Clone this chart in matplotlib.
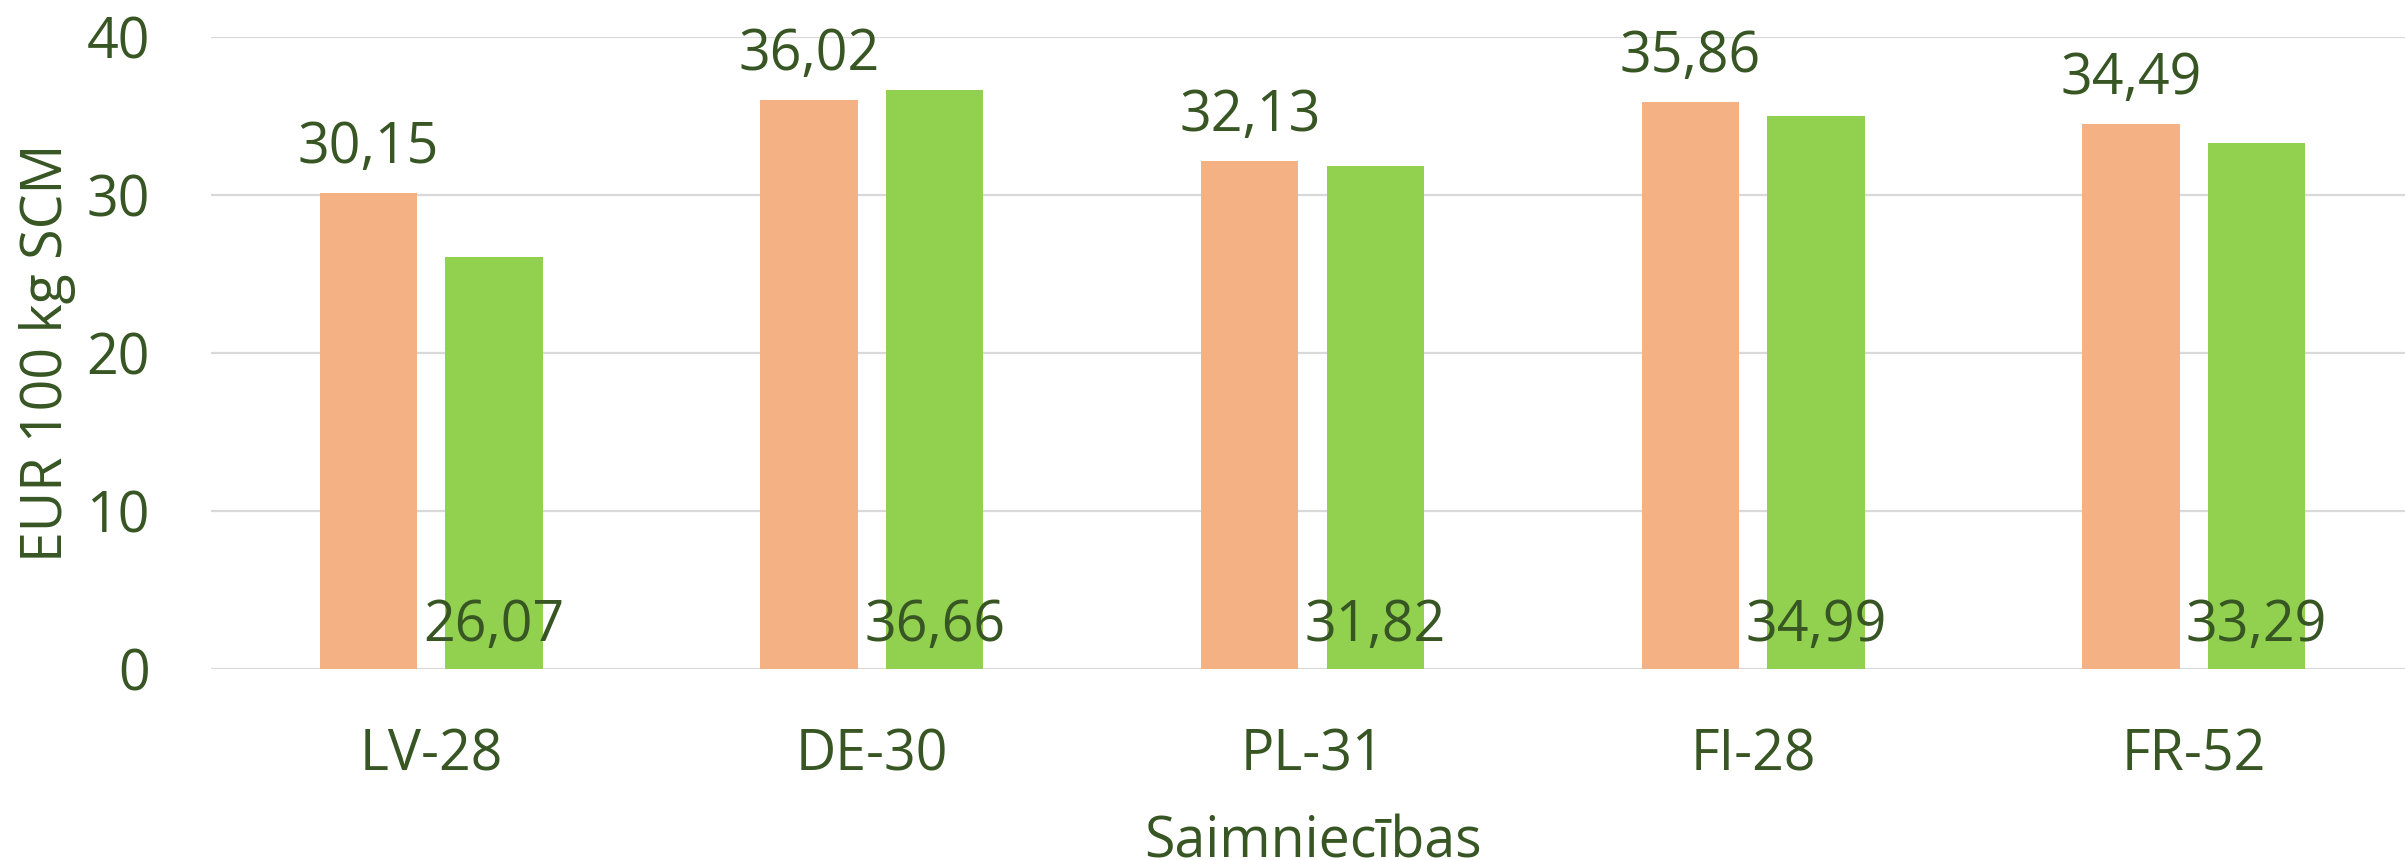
import matplotlib
matplotlib.use("Agg")
import matplotlib.pyplot as plt
import numpy as np

categories = ["LV-28", "DE-30", "PL-31", "FI-28", "FR-52"]
series_a = [30.15, 36.02, 32.13, 35.86, 34.49]
series_b = [26.07, 36.66, 31.82, 34.99, 33.29]
yticks = [0, 10, 20, 30, 40]

TXT = "#375623"
C_A = "#F4B183"
C_B = "#92D050"
FONT = "Open Sans"
FS = 40

fig = plt.figure(figsize=(24.05, 8.6), dpi=100)
W, H = 2405, 860
x_left, x_right = 211, 2414
y_top, y_bot = 37, 669
ax = fig.add_axes([x_left / W, (H - y_bot) / H, (x_right - x_left) / W, (y_bot - y_top) / H])

x = np.arange(len(categories))
bw = 0.221
off = 0.1425
bars_a = ax.bar(x - off, series_a, width=bw, color=C_A, zorder=3)
bars_b = ax.bar(x + off, series_b, width=bw, color=C_B, zorder=3)

ax.set_xlim(-0.5, len(categories) - 0.5)
ax.set_ylim(0, 40)
ax.set_yticks(yticks)
ax.set_yticklabels([str(v) for v in yticks])
ax.set_xticks(x)
ax.set_xticklabels(categories)

ax.grid(axis="y", color="#D9D9D9", linewidth=1.6, zorder=0)
ax.set_axisbelow(True)
for s in ax.spines.values():
    s.set_visible(False)

ax.tick_params(axis="both", length=0, labelsize=FS, labelcolor=TXT)
ax.tick_params(axis="y", pad=44)
ax.tick_params(axis="x", pad=73)
for lbl in ax.get_xticklabels() + ax.get_yticklabels():
    lbl.set_fontfamily(FONT)
for t in ax.xaxis.get_major_ticks():
    t.label1.set_va("baseline")

def fmt(v):
    return f"{v:.2f}".replace(".", ",")

for xi, v in zip(x - off, series_a):
    ax.annotate(fmt(v), xy=(xi, v), xytext=(0, 21.6), textcoords="offset points",
                ha="center", va="baseline", fontsize=FS, color=TXT, family=FONT, zorder=5)
for xi, v in zip(x + off, series_b):
    ax.annotate(fmt(v), xy=(xi, 0), xytext=(0, 20), textcoords="offset points",
                ha="center", va="baseline", fontsize=FS, color=TXT, family=FONT, zorder=5)

ax.set_xlabel("Saimniecības", fontsize=FS, color=TXT, family=FONT)
ax.xaxis.label.set_va("baseline")
ax.xaxis.set_label_coords(0.5, -(857 - y_bot) / (y_bot - y_top))

ax.set_ylabel("EUR 100 kg SCM", fontsize=FS, color=TXT, family=FONT)
ax.yaxis.label.set_va("baseline")
ax.yaxis.set_label_coords(-(x_left - 62) / (x_right - x_left), 0.5)

fig.savefig("out.png", dpi=100)
